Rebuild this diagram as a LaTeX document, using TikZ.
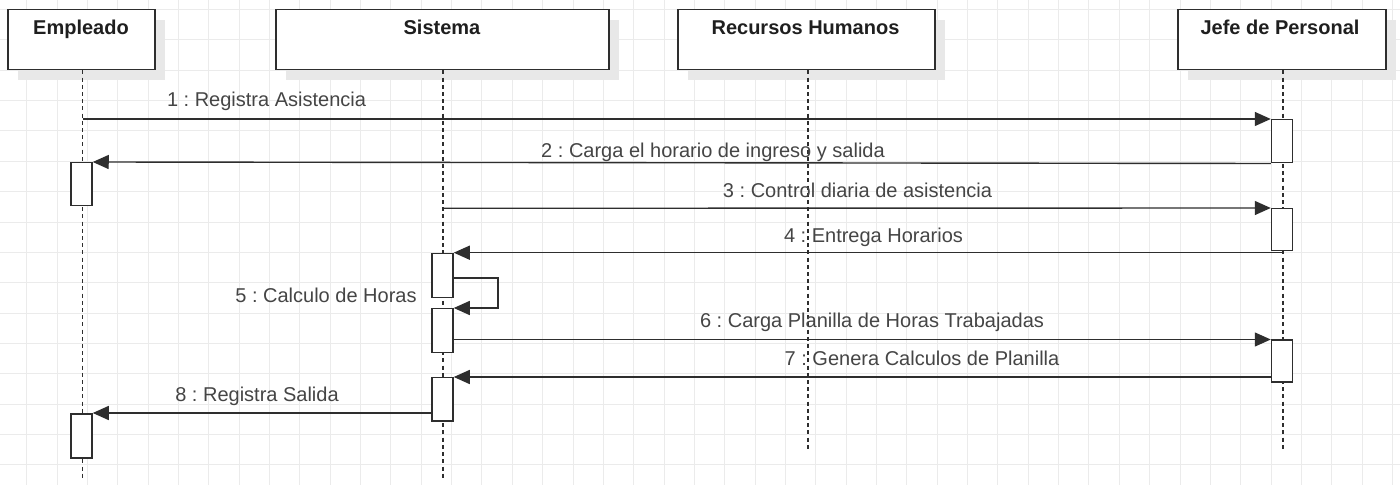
\documentclass[tikz,border=0pt]{standalone}
\usepackage{fontspec}
\setmainfont{Liberation Sans}
\frenchspacing
\usetikzlibrary{arrows.meta,shadows}
\definecolor{gridc}{HTML}{EBEBEB}
\definecolor{linec}{HTML}{2E2E2E}
\definecolor{labelc}{HTML}{454545}
\definecolor{shadowc}{HTML}{E8E8E8}
\begin{document}
\begin{tikzpicture}[x=0.5pt,y=-0.5pt,
  header/.style={draw=linec,line width=0.75pt,fill=white,minimum width=#1,minimum height=30pt,inner sep=0pt,anchor=north west,
    drop shadow={shadow xshift=5pt,shadow yshift=-5pt,fill=shadowc,opacity=1}},
  htext/.style={font=\fontsize{10}{12}\selectfont\bfseries,text=black!88,anchor=base,inner sep=0pt},
  lifeline/.style={draw=linec,line width=0.7pt,dash pattern=on 2pt off 1.6pt},
  act/.style={draw=linec,line width=0.75pt,fill=white,minimum width=10.5pt,minimum height=21.5pt,inner sep=0pt,anchor=north},
  msg/.style={draw=linec,line width=0.7pt,-{Triangle[length=8pt,width=7pt]}},
  lbl/.style={font=\fontsize{10}{12}\selectfont,text=labelc,anchor=base,inner sep=0pt}]
\useasboundingbox (0,0) rectangle (1400,485);
\fill[white] (0,0) rectangle (1400,485);
% grid
\foreach \i in {0,...,45} {\draw[gridc,line width=0.5pt] (26.7+\i*30.35,0) -- (26.7+\i*30.35,485);}
\foreach \j in {0,...,15} {\draw[gridc,line width=0.5pt] (0,9.6+\j*30.35) -- (1400,9.6+\j*30.35);}
% headers
\node[header=73.5pt] (emp) at (7,9) {};
\node[header=166.5pt] (sis) at (275,9) {};
\node[header=128.5pt] (rrhh) at (677,9) {};
\node[header=104pt] (jefe) at (1177,9) {};
\node[htext] (empt) at (81,34.3) {Empleado};
\node[htext] (sist) at (442,34.3) {Sistema};
\node[htext] (rrhht) at (805.5,34.3) {Recursos Humanos};
\node[htext] (jefet) at (1280,34.3) {Jefe de Personal};
% lifeline ends
\coordinate (empE) at (82.5,480);
\coordinate (sisE) at (443,480);
\coordinate (rrhhE) at (808,451);
\coordinate (jefeE) at (1283,451);
\draw[lifeline] (emp.south -| empE) -- (empE);
\draw[lifeline] (sis.south -| sisE) -- (sisE);
\draw[lifeline] (rrhh.south -| rrhhE) -- (rrhhE);
\draw[lifeline] (jefe.south -| jefeE) -- (jefeE);
% activations
\node[act] (J1) at (1282,119) {};
\node[act,minimum height=21pt] (J2) at (1282,208) {};
\node[act,minimum height=21pt] (J3) at (1282,339.5) {};
\node[act] (E1) at (81.5,162) {};
\node[act,minimum height=22pt] (E2) at (81.5,413) {};
\node[act,minimum height=22pt] (S1) at (442.5,253) {};
\node[act,minimum height=22pt] (S2) at (442.5,308) {};
\node[act] (S3) at (442.5,377) {};
% message anchors
\coordinate (m1s) at (82.5,119);
\coordinate (m3s) at (443,208.3);
\coordinate (m4s) at (1283,252.7);
\coordinate (m5a) at (498,278);
% messages
\draw[msg] (m1s) -- (J1.north west);
\draw[msg] (J1.south west) -- (E1.north east);
\draw[msg] (m3s) -- (J2.north west);
\draw[msg] (m4s) -- (S1.north east |- m4s);
\draw[msg] (S1.east |- m5a) -- (m5a) |- (S2.north east);
\draw[msg] (S2.east |- J3.north west) -- (J3.north west);
\draw[msg] (J3.west |- S3.north) -- (S3.north east);
\draw[msg] (S3.west |- E2.north) -- (E2.north east);
% labels
\node[lbl] (l1) at (266.5,107) {1 : Registra Asistencia};
\node[lbl] (l2) at (713,158) {2 : Carga el horario de ingreso y salida};
\node[lbl] (l3) at (857.5,198) {3 : Control diaria de asistencia};
\node[lbl] (l4) at (873.5,243) {4 : Entrega Horarios};
\node[lbl,anchor=base east] (l5) at (417,303) {5 : Calculo de Horas};
\node[lbl] (l6) at (872,328) {6 : Carga Planilla de Horas Trabajadas};
\node[lbl] (l7) at (922,366) {7 : Genera Calculos de Planilla};
\node[lbl] (l8) at (257,401.5) {8 : Registra Salida};
\end{tikzpicture}
\end{document}
